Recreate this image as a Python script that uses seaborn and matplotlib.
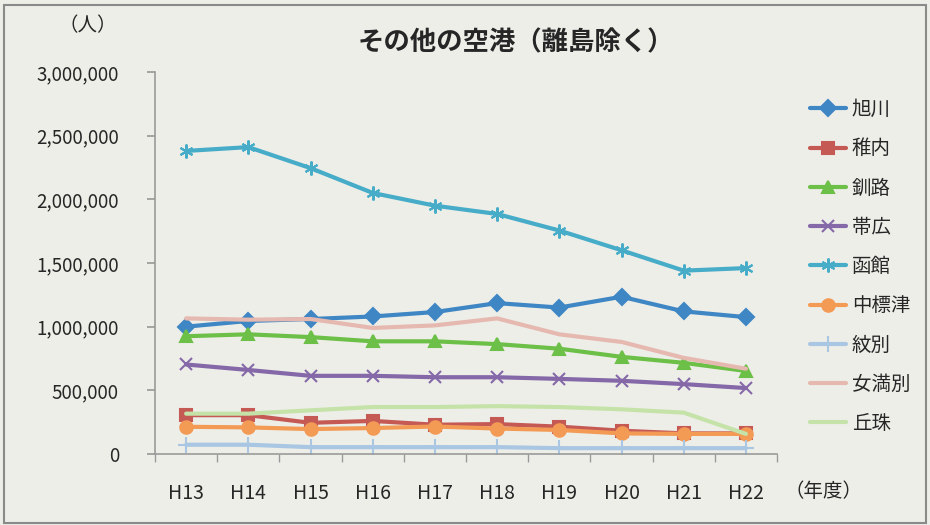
import numpy as np
import pandas as pd
import matplotlib
matplotlib.use("Agg")
import matplotlib.pyplot as plt
import seaborn as sns
from matplotlib.patches import Rectangle

years = ["H13", "H14", "H15", "H16", "H17", "H18", "H19", "H20", "H21", "H22"]

asahikawa = [1000000, 1045000, 1060000, 1080000, 1115000, 1185000, 1150000, 1235000, 1120000, 1075000]
wakkanai = [305000, 305000, 245000, 260000, 230000, 235000, 215000, 183000, 162000, 162000]
kushiro = [925000, 940000, 918000, 885000, 885000, 863000, 827000, 763000, 716000, 652000]
obihiro = [703000, 660000, 614000, 614000, 603000, 603000, 590000, 575000, 549000, 518000]
hakodate = [2380000, 2410000, 2245000, 2050000, 1950000, 1885000, 1755000, 1600000, 1440000, 1460000]
nakashibetsu = [214000, 209000, 196000, 204000, 216000, 200000, 189000, 162000, 158000, 158000]
monbetsu = [73000, 73000, 54000, 54000, 54000, 54000, 46000, 46000, 46000, 46000]
memanbetsu = [1065000, 1055000, 1060000, 990000, 1010000, 1065000, 940000, 880000, 755000, 670000]
okadama = [317000, 317000, 343000, 369000, 369000, 376000, 369000, 351000, 325000, 158000]

series_names = ["旭川", "稚内", "釧路", "帯広", "函館", "中標津", "紋別", "女満別", "丘珠"]
series_values = [asahikawa, wakkanai, kushiro, obihiro, hakodate,
                 nakashibetsu, monbetsu, memanbetsu, okadama]
colors = ["#3f86c4", "#c55a55", "#6cbf47", "#8468a8", "#47acc8",
          "#f39a55", "#a9c6e2", "#e6b9b0", "#c5e3a8"]
markers = ["D", "s", "^", "x", (6, 2, 0), "o", "+", None, None]
marker_sizes = [8, 8, 9, 9, 10, 9, 11, 0, 0]

bg = "#eeeee9"

sns.set_theme(style="white")
plt.rcParams["font.family"] = ["Noto Sans CJK JP", "DejaVu Sans"]

fig = plt.figure(figsize=(9.3, 5.25), dpi=100, facecolor=bg)
ax = fig.add_axes([0.1667, 0.1352, 0.6688, 0.7277])
ax.set_facecolor(bg)

for name, vals, col, mk, ms in zip(series_names, series_values, colors, markers, marker_sizes):
    df = pd.DataFrame({"year": years, "value": vals})
    kw = {}
    if mk is not None:
        kw = dict(marker=mk, markersize=ms, markeredgecolor=col, markerfacecolor=col,
                  markeredgewidth=1.5)
    sns.lineplot(data=df, x="year", y="value", ax=ax, color=col, linewidth=3,
                 label=name, sort=False, **kw)

ax.set_xlim(-0.5, 9.5)
ax.set_ylim(0, 3000000)
ax.set_yticks(np.arange(0, 3000001, 500000))
ax.set_yticklabels([f"{int(v):,}" for v in np.arange(0, 3000001, 500000)], fontsize=13.5)
ax.set_xticks(range(len(years)))
ax.set_xticklabels(years, fontsize=14)
ax.set_xticks(np.arange(-0.5, 10, 1), minor=True)
ax.tick_params(axis="x", which="major", length=0, pad=21)
ax.tick_params(axis="x", which="minor", length=6, color="#9a9a9a", direction="out", bottom=True)
ax.tick_params(axis="y", which="major", length=6, color="#9a9a9a", direction="out", left=True, pad=20)
ax.set_xlabel("")
ax.set_ylabel("")
ax.grid(False)
for s in ["top", "right"]:
    ax.spines[s].set_visible(False)
for s in ["left", "bottom"]:
    ax.spines[s].set_color("#9a9a9a")
    ax.spines[s].set_linewidth(1.2)

leg = ax.legend(loc="upper left", bbox_to_anchor=(1.025, 0.975), frameon=False,
                fontsize=14, handlelength=1.85, labelspacing=0.94, handletextpad=0.3)

fig.text(0.555, 0.918, "その他の空港（離島除く）", ha="center", va="center",
         fontsize=19, fontweight="bold")
fig.text(0.094, 0.952, "（人）", ha="center", va="center", fontsize=14)
fig.text(0.885, 0.064, "（年度）", ha="center", va="center", fontsize=14)

fig.patches.append(Rectangle((0.004, 0.004), 0.992, 0.986, transform=fig.transFigure,
                             fill=False, edgecolor="#8a8a8a", linewidth=1.5))

fig.savefig("out.png", dpi=100, facecolor=bg)
